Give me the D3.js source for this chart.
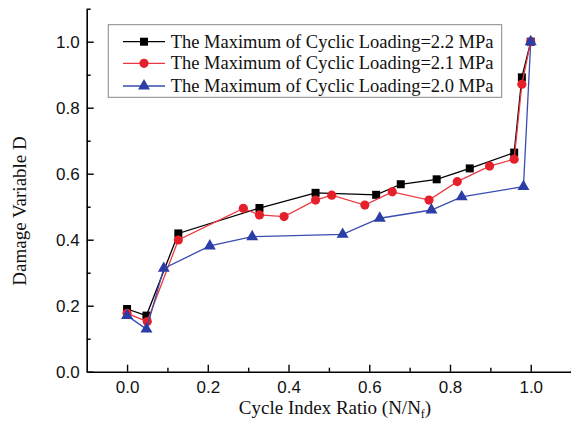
<!DOCTYPE html>
<html><head><meta charset="utf-8">
<script src="https://cdn.jsdelivr.net/npm/d3@7"></script>
<style>html,body{margin:0;padding:0;background:#fff;}svg{display:block;}</style>
</head><body>
<svg id="c" width="571" height="423"></svg>
<script>
const seriesNames = ["The Maximum of Cyclic Loading=2.2 MPa","The Maximum of Cyclic Loading=2.1 MPa","The Maximum of Cyclic Loading=2.0 MPa"];
const x22 = [0.0,0.048,0.127,0.328,0.467,0.617,0.678,0.767,0.849,0.959,0.978,1.0];
const y22 = [0.19,0.17,0.419,0.496,0.542,0.536,0.568,0.583,0.616,0.664,0.892,1.0];
const x21 = [0.0,0.05,0.127,0.288,0.328,0.389,0.467,0.507,0.589,0.657,0.748,0.818,0.898,0.959,0.978,1.0];
const y21 = [0.177,0.152,0.399,0.495,0.475,0.470,0.520,0.535,0.505,0.545,0.520,0.576,0.623,0.644,0.871,1.0];
const x20 = [0.0,0.048,0.091,0.205,0.31,0.534,0.626,0.754,0.829,0.982,1.0];
const y20 = [0.17,0.129,0.313,0.381,0.409,0.416,0.465,0.49,0.530,0.561,1.0];
const xTicks = [0.0,0.2,0.4,0.6,0.8,1.0];
const yTicks = [0.0,0.2,0.4,0.6,0.8,1.0];
const xMinor = [0.1,0.3,0.5,0.7,0.9,1.1];
const yMinor = [0.1,0.3,0.5,0.7,0.9,1.1];

const styles = [
  {color:"#000000", line:"#000000", sym:d3.symbolSquare, size:64},
  {color:"#e5202a", line:"#ec3a42", sym:d3.symbolCircle, size:66},
  {color:"#2b3da6", line:"#3a4cb0", sym:d3.symbolTriangle, size:62}
];
const series = [[x22,y22],[x21,y21],[x20,y20]];

const svg = d3.select("#c");
const x = d3.scaleLinear().domain([-0.1,1.1]).range([86.7,571.1]);
const y = d3.scaleLinear().domain([0,1.1]).range([371.7,8.7]);

const fmt = d3.format(".1f");
// axes
const gx = svg.append("g").attr("transform",`translate(0,${y(0)})`);
gx.call(d3.axisBottom(x).tickValues(xTicks).tickFormat(fmt).tickSizeInner(-7).tickSizeOuter(0).tickPadding(9));
gx.append("g").call(d3.axisBottom(x).tickValues(xMinor).tickFormat("").tickSizeInner(-4).tickSizeOuter(0)).select(".domain").remove();
const gy = svg.append("g").attr("transform",`translate(${x(-0.1)},0)`);
gy.call(d3.axisLeft(y).tickValues(yTicks).tickFormat(fmt).tickSizeInner(-7).tickSizeOuter(0).tickPadding(7));
gy.append("g").call(d3.axisLeft(y).tickValues(yMinor).tickFormat("").tickSizeInner(-4).tickSizeOuter(0)).select(".domain").remove();
svg.selectAll(".domain").attr("stroke","#000").attr("stroke-width",1.6);
svg.selectAll(".tick line").attr("stroke","#000").attr("stroke-width",1.4);
svg.selectAll(".tick text").attr("font-family","'Liberation Sans', Arial, sans-serif").attr("font-size",17).attr("fill","#111");
gx.selectAll(".tick text").attr("dy","0.71em");

// axis titles
const xt = svg.append("text").attr("x",335).attr("y",414).attr("text-anchor","middle")
  .attr("font-family","'Liberation Serif','Times New Roman',serif").attr("font-size",19).attr("fill","#111");
xt.append("tspan").text("Cycle Index Ratio (N/N");
xt.append("tspan").attr("font-size",12).attr("dy",4).text("f");
xt.append("tspan").attr("dy",-4).text(")");
svg.append("text").attr("transform","translate(26,211) rotate(-90)").attr("text-anchor","middle")
  .attr("font-family","'Liberation Serif','Times New Roman',serif").attr("font-size",19).attr("fill","#111")
  .text("Damage Variable D");

// series
const line = d3.line().x(d=>x(d[0])).y(d=>y(d[1]));
series.forEach((s,i)=>{
  const pts = s[0].map((v,j)=>[v,s[1][j]]);
  svg.append("path").datum(pts).attr("d",line).attr("fill","none").attr("stroke",styles[i].line).attr("stroke-width",1.3);
  svg.append("g").selectAll("path").data(pts).join("path")
    .attr("transform",d=>`translate(${x(d[0])},${y(d[1])})`)
    .attr("d",d3.symbol().type(styles[i].sym).size(styles[i].size))
    .attr("fill",styles[i].color);
});

// legend
svg.append("rect").attr("x",108.3).attr("y",24.7).attr("width",393.4).attr("height",72.6)
  .attr("fill","#fff").attr("stroke","#888").attr("stroke-width",1);
const rowsY = [41.7,63.3,86];
seriesNames.forEach((n,i)=>{
  const ly = rowsY[i];
  svg.append("line").attr("x1",123).attr("x2",165).attr("y1",ly).attr("y2",ly).attr("stroke",styles[i].line).attr("stroke-width",1.3);
  svg.append("path").attr("transform",`translate(144,${ly})`).attr("d",d3.symbol().type(styles[i].sym).size(styles[i].size)).attr("fill",styles[i].color);
  svg.append("text").attr("x",170.7).attr("y",ly+6).attr("font-family","'Liberation Serif','Times New Roman',serif")
    .attr("font-size",18.5).attr("fill","#111").text(n);
});
</script>
</body></html>
